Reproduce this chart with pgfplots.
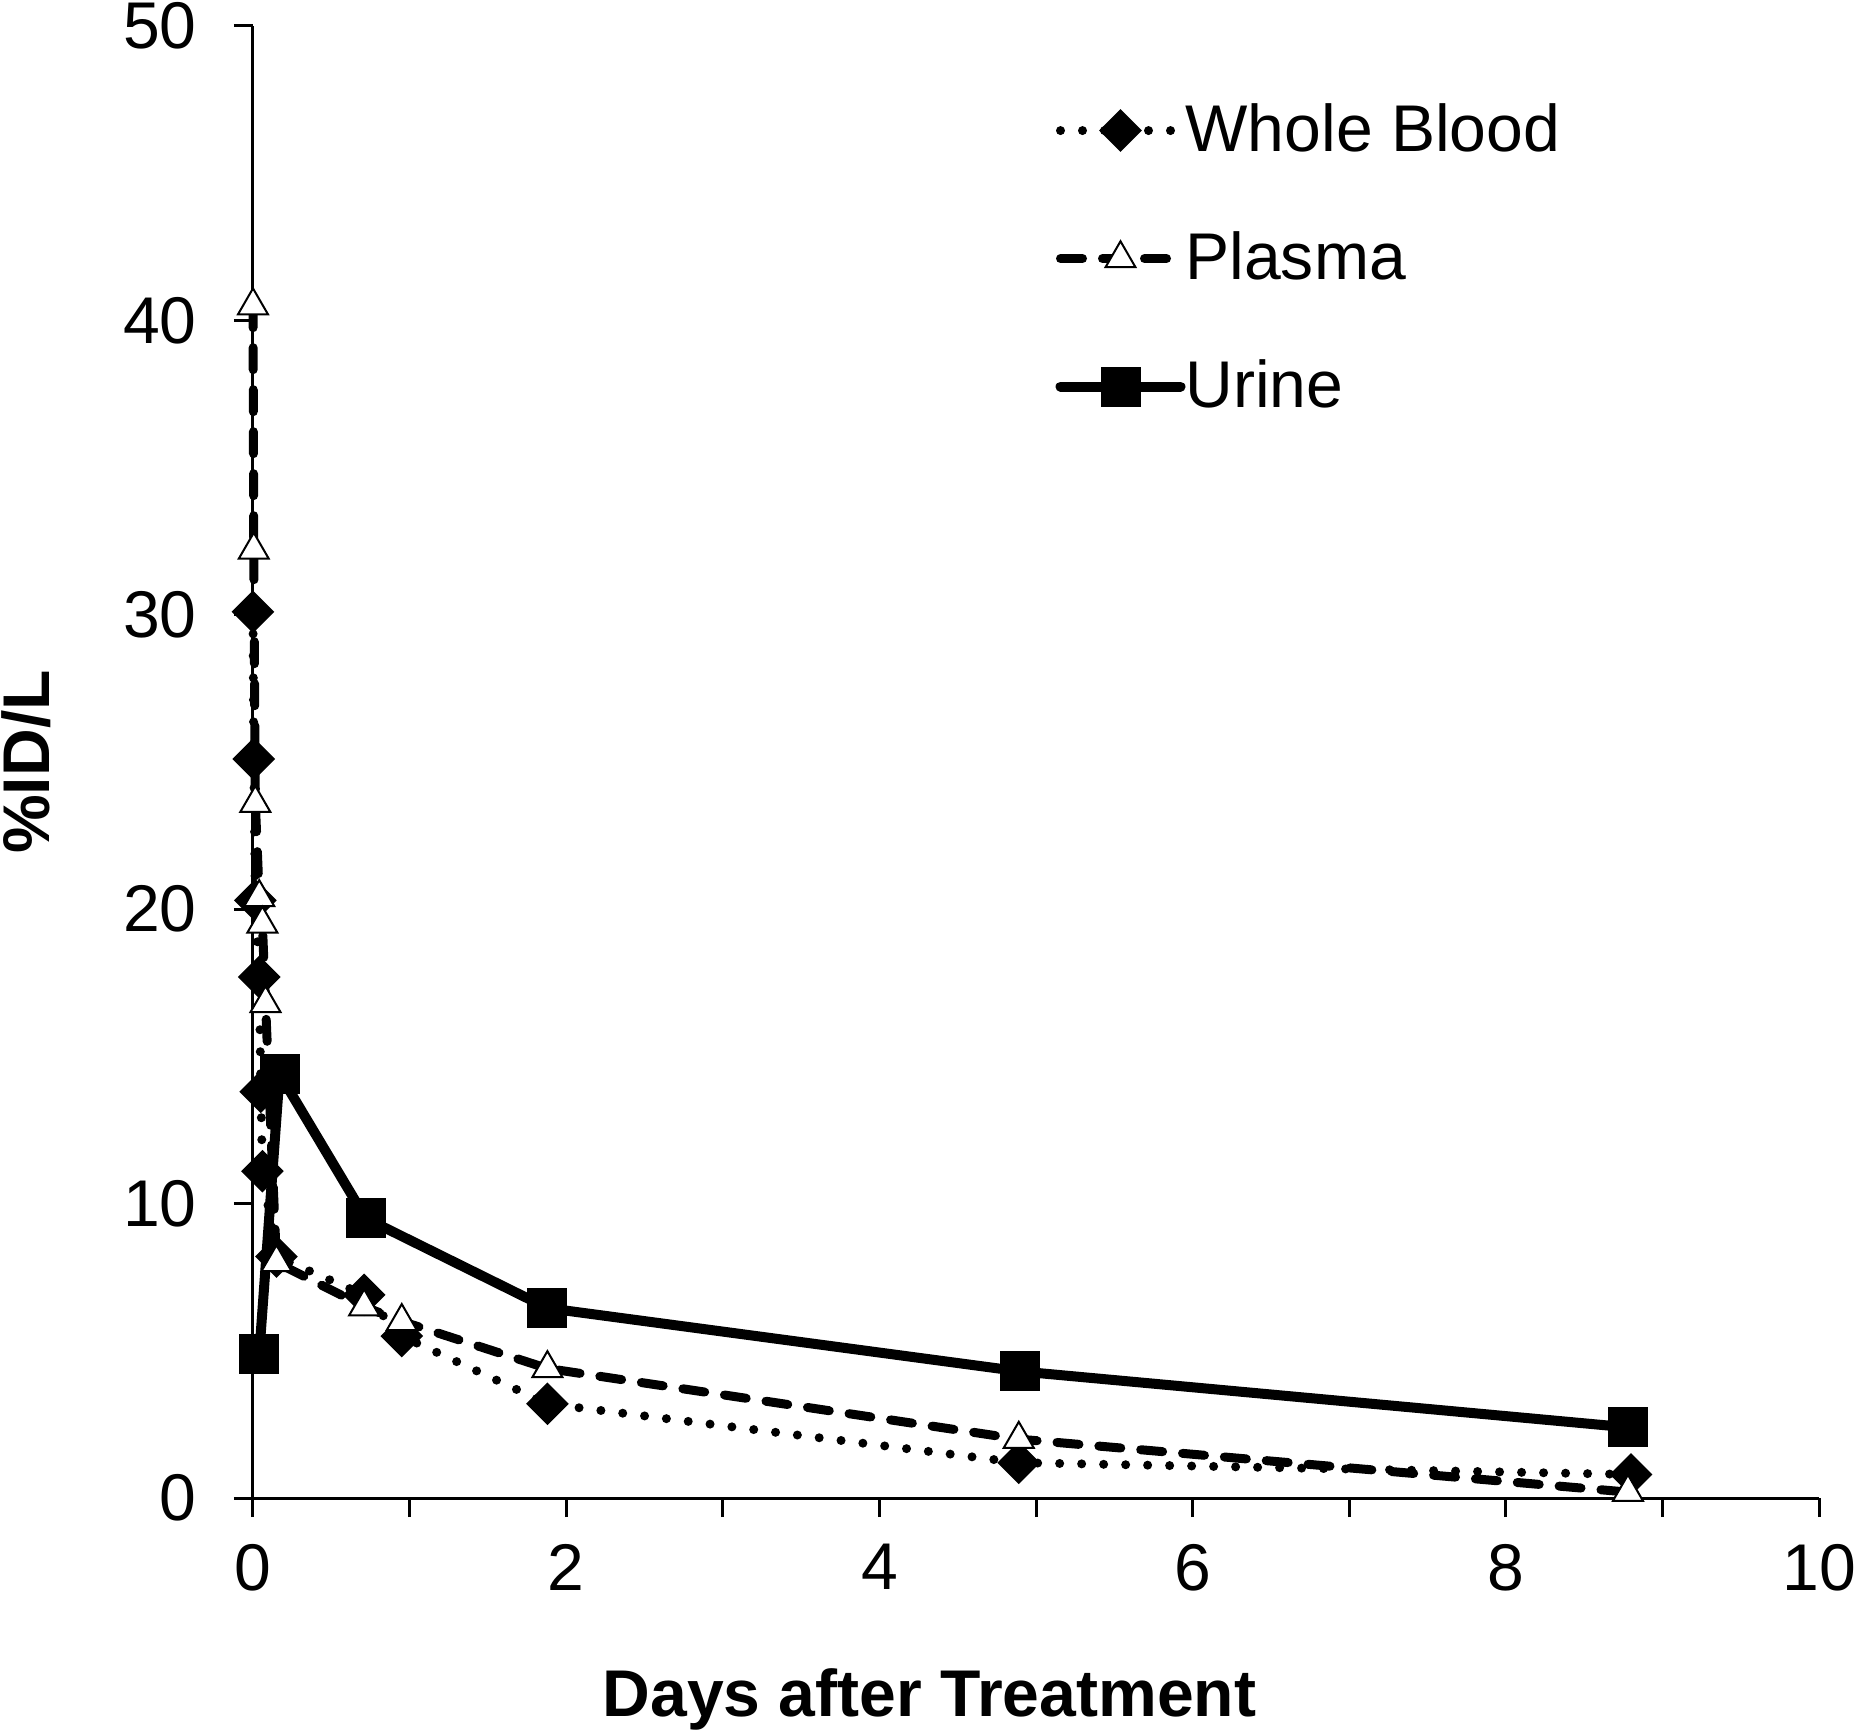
\documentclass[border=0pt]{standalone}
\usepackage{fontspec}
\setmainfont{Liberation Sans}
\usepackage{pgfplots}
\pgfplotsset{compat=1.18}
\begin{document}
\begin{tikzpicture}
\begin{axis}[
  scale only axis,
  width=15.66cm, height=14.72cm,
  xmin=0, xmax=10, ymin=0, ymax=50,
  axis x line*=bottom, axis y line*=left,
  axis line style={line width=0.03cm, black},
  tick align=outside,
  major tick length=0.19cm, minor tick length=0.19cm,
  tick style={line width=0.03cm, black},
  xtick={0,2,4,6,8,10}, minor xtick={1,3,5,7,9},
  ytick={0,10,20,30,40,50},
  /pgf/number format/assume math mode=true,
  tick label style={font=\fontsize{18.8}{22}\selectfont},
  yticklabel style={xshift=-0.25cm},
  xticklabel style={yshift=-0.15cm},
  label style={font=\fontsize{18.8}{22}\selectfont\bfseries},
  xlabel={Days after Treatment},
  ylabel={\%ID/L},
  xlabel style={at={(axis description cs:0.432,-0.137)}, anchor=center},
  ylabel style={at={(axis description cs:-0.145,0.5)}, anchor=center},
  clip=false,
  legend cell align=left,
  legend image code/.code={\draw[mark repeat=2,mark phase=2,#1] plot coordinates {(0cm,0cm) (0.6cm,0cm) (1.2cm,0cm)};},
  legend style={at={(axis cs:5.12,42.1)}, anchor=west, draw=none, fill=none, inner sep=0pt,
    row sep=0.63cm, font=\fontsize{18.8}{22}\selectfont,
    nodes={inner sep=0pt, text height=0.53cm, text depth=0.12cm}},
]
\coordinate (BL) at (rel axis cs:0,0);
\coordinate (TR) at (rel axis cs:1,1);
\addplot[black, line width=0.09cm, line cap=round, dash pattern=on 0pt off 0.22cm,
  mark=square*, mark size=0.106cm, mark options={solid, rotate=45, fill=black}]
coordinates {(0.0,30.1) (0.005,25.1) (0.015,20.3) (0.04,17.7) (0.05,13.8) (0.06,11.1) (0.15,8.2) (0.71,6.9) (0.95,5.5) (1.88,3.2) (4.89,1.2) (8.8,0.8)};
\addlegendentry{Whole Blood}
\addplot[black, line width=0.09cm, line cap=round, dash pattern=on 0.22cm off 0.2cm,
  mark=triangle*, mark size=0.173cm, mark options={solid, fill=white, line width=0.02cm}]
coordinates {(0.0,40.5) (0.005,32.2) (0.015,23.6) (0.04,20.4) (0.06,19.5) (0.08,16.8) (0.15,8.0) (0.71,6.5) (0.95,6.0) (1.88,4.4) (4.89,2.0) (8.78,0.2)};
\addlegendentry{Plasma}
\addplot[black, line width=0.1cm, line cap=round, solid,
  mark=square*, mark size=0.15cm, mark options={solid, fill=black}]
coordinates {(0.04,4.9) (0.17,14.4) (0.72,9.5) (1.88,6.45) (4.9,4.3) (8.78,2.4)};
\addlegendentry{Urine}
\end{axis}
\pgfresetboundingbox
\path[use as bounding box] ([shift={(-2.53cm,-2.37cm)}]BL) rectangle ([shift={(0.35cm,0.26cm)}]TR);
\end{tikzpicture}
\end{document}
